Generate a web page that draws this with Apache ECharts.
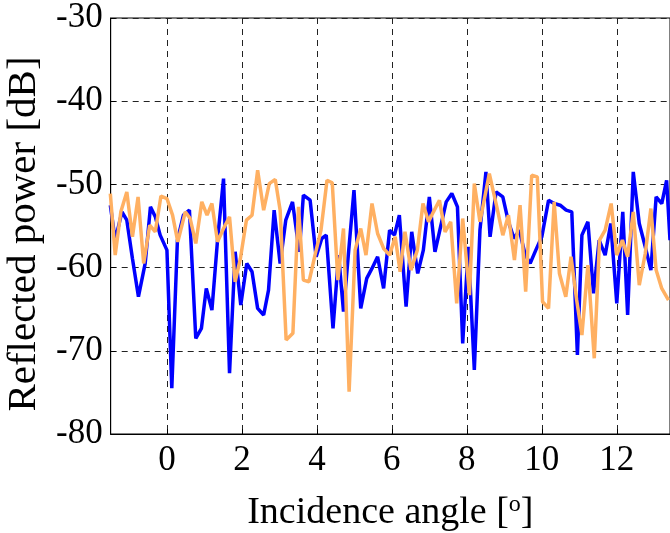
<!DOCTYPE html>
<html>
<head>
<meta charset="utf-8">
<script src="https://cdn.jsdelivr.net/npm/echarts@6/dist/echarts.min.js"></script>
<style>html,body{margin:0;padding:0;background:#fff;}#c{width:670px;height:533px;}</style>
</head>
<body>
<div id="c"></div>
<script>
var blueAngle = [-1.51,-1.38,-1.20,-1.07,-0.92,-0.76,-0.58,-0.44,-0.31,-0.18,0.00,0.13,0.28,0.44,0.60,0.77,0.92,1.05,1.20,1.35,1.51,1.67,1.82,1.97,2.13,2.27,2.42,2.58,2.71,2.86,3.02,3.17,3.35,3.53,3.64,3.82,3.98,4.13,4.25,4.43,4.58,4.71,4.85,4.99,5.17,5.33,5.47,5.62,5.78,5.94,6.07,6.20,6.38,6.53,6.69,6.84,7.00,7.15,7.29,7.45,7.60,7.75,7.89,8.04,8.20,8.35,8.51,8.62,8.78,8.96,9.11,9.26,9.40,9.56,9.69,9.84,10.00,10.18,10.33,10.49,10.65,10.80,10.95,11.07,11.23,11.38,11.53,11.69,11.84,12.00,12.16,12.29,12.44,12.60,12.76,12.91,13.05,13.20,13.33,13.42];
var blueValue = [-52.5,-56.7,-53.3,-54.3,-58.9,-63.5,-59.5,-52.7,-53.9,-56.1,-57.9,-74.5,-56.7,-53.7,-53.1,-68.5,-67.3,-62.5,-65.1,-56.7,-49.3,-72.7,-58.1,-64.5,-59.5,-60.5,-64.9,-65.7,-62.7,-53.1,-59.5,-54.3,-52.1,-58.1,-51.3,-51.9,-58.7,-56.5,-56.1,-67.3,-58.5,-65.3,-57.9,-50.7,-64.9,-61.3,-60.1,-58.7,-62.5,-55.5,-56.1,-53.7,-64.7,-55.7,-60.7,-57.9,-51.5,-58.1,-55.3,-52.1,-51.1,-52.7,-69.1,-57.5,-72.3,-55.5,-48.5,-56.3,-50.9,-51.5,-54.5,-56.5,-55.5,-58.5,-59.5,-57.9,-56.3,-51.9,-52.3,-52.5,-53.1,-53.3,-70.5,-56.1,-54.5,-63.1,-56.7,-58.5,-54.7,-64.3,-53.3,-65.7,-48.5,-54.7,-57.5,-60.3,-51.5,-52.3,-49.5,-56.7];
var orangeAngle = [-1.51,-1.38,-1.23,-1.07,-0.92,-0.77,-0.62,-0.46,-0.31,-0.16,0.00,0.15,0.29,0.49,0.62,0.77,0.93,1.07,1.20,1.35,1.51,1.67,1.82,1.96,2.12,2.27,2.42,2.58,2.73,2.89,3.02,3.18,3.36,3.51,3.64,3.79,3.95,4.11,4.27,4.41,4.56,4.71,4.86,5.02,5.17,5.31,5.47,5.62,5.78,5.94,6.09,6.22,6.35,6.51,6.68,6.83,6.98,7.11,7.27,7.42,7.57,7.73,7.89,8.07,8.20,8.35,8.60,8.80,8.96,9.11,9.27,9.42,9.57,9.73,9.88,10.02,10.18,10.33,10.47,10.64,10.78,10.93,11.07,11.23,11.40,11.54,11.69,11.85,12.00,12.15,12.29,12.44,12.60,12.76,12.91,13.05,13.20,13.38];
var orangeValue = [-51.1,-58.5,-53.3,-50.9,-56.3,-51.5,-59.5,-54.9,-55.7,-51.4,-51.7,-53.7,-56.9,-53.3,-54.1,-57.1,-52.1,-53.7,-52.3,-56.9,-55.3,-53.9,-61.7,-58.9,-54.3,-53.7,-48.3,-53.1,-49.9,-49.4,-53.1,-68.7,-67.9,-52.7,-61.5,-61.7,-58.5,-55.5,-49.5,-49.8,-61.5,-55.3,-74.9,-57.9,-55.3,-58.5,-52.3,-55.9,-57.7,-58.5,-56.3,-60.5,-55.7,-60.3,-57.9,-52.3,-54.5,-53.3,-51.9,-55.7,-54.5,-64.3,-54.1,-63.3,-49.9,-54.5,-48.7,-52.7,-56.1,-53.7,-59.1,-52.5,-62.9,-48.9,-49.1,-64.1,-64.9,-52.1,-60.7,-63.5,-58.7,-63.9,-68.1,-59.7,-70.9,-56.7,-55.5,-52.3,-58.5,-56.7,-58.7,-53.3,-62.1,-58.3,-52.9,-60.3,-62.5,-63.9];
var xTitle = 'Incidence angle [{sup|o}]';
var yTitle = 'Reflected power [dB]';

function pairs(a, v) { return a.map(function (x, i) { return [x, v[i]]; }); }

var font = 'Liberation Serif';
var chart = echarts.init(document.getElementById('c'), null, {renderer: 'canvas'});
chart.setOption({
  animation: false,
  grid: {left: 110.7, right: 0, top: 18, bottom: 99, containLabel: false, outerBoundsMode: 'none',
    show: true, borderColor: '#000', borderWidth: 1, backgroundColor: 'transparent'},
  xAxis: {
    type: 'value', min: -1.5, max: 13.42, splitNumber: 7,
    name: xTitle, nameLocation: 'middle', nameGap: 59,
    nameTextStyle: {fontFamily: font, fontSize: 38, color: '#000',
      rich: {sup: {fontFamily: font, fontSize: 24, color: '#000', verticalAlign: 'top', padding: [0, 0, 16, 0]}}},
    axisLine: {show: true, onZero: false, lineStyle: {color: '#000', width: 1}},
    axisTick: {show: true, inside: true, length: 5, lineStyle: {color: '#000'}},
    axisLabel: {fontFamily: font, fontSize: 35, color: '#000', margin: 9, showMinLabel: false, showMaxLabel: false},
    splitLine: {show: true, lineStyle: {color: '#222', type: [6, 5], width: 1}}
  },
  yAxis: {
    type: 'value', min: -80, max: -30, interval: 10,
    name: yTitle, nameLocation: 'middle', nameGap: 60,
    nameTextStyle: {fontFamily: font, fontSize: 41, color: '#000', padding: [0, 16, 0, 0]},
    axisLine: {show: true, onZero: false, lineStyle: {color: '#000', width: 1}},
    axisTick: {show: true, inside: true, length: 5, lineStyle: {color: '#000'}},
    axisLabel: {fontFamily: font, fontSize: 35, color: '#000', margin: 8},
    splitLine: {show: true, lineStyle: {color: '#222', type: [6, 5], width: 1}}
  },
  series: [
    {type: 'line', data: pairs(blueAngle, blueValue), showSymbol: false, symbol: 'none',
      lineStyle: {color: '#0000ff', width: 3.5}, clip: true, z: 2},
    {type: 'line', data: pairs(orangeAngle, orangeValue), showSymbol: false, symbol: 'none',
      lineStyle: {color: '#ffb062', width: 3.5}, clip: true, z: 3}
  ]
});
</script>
</body>
</html>
